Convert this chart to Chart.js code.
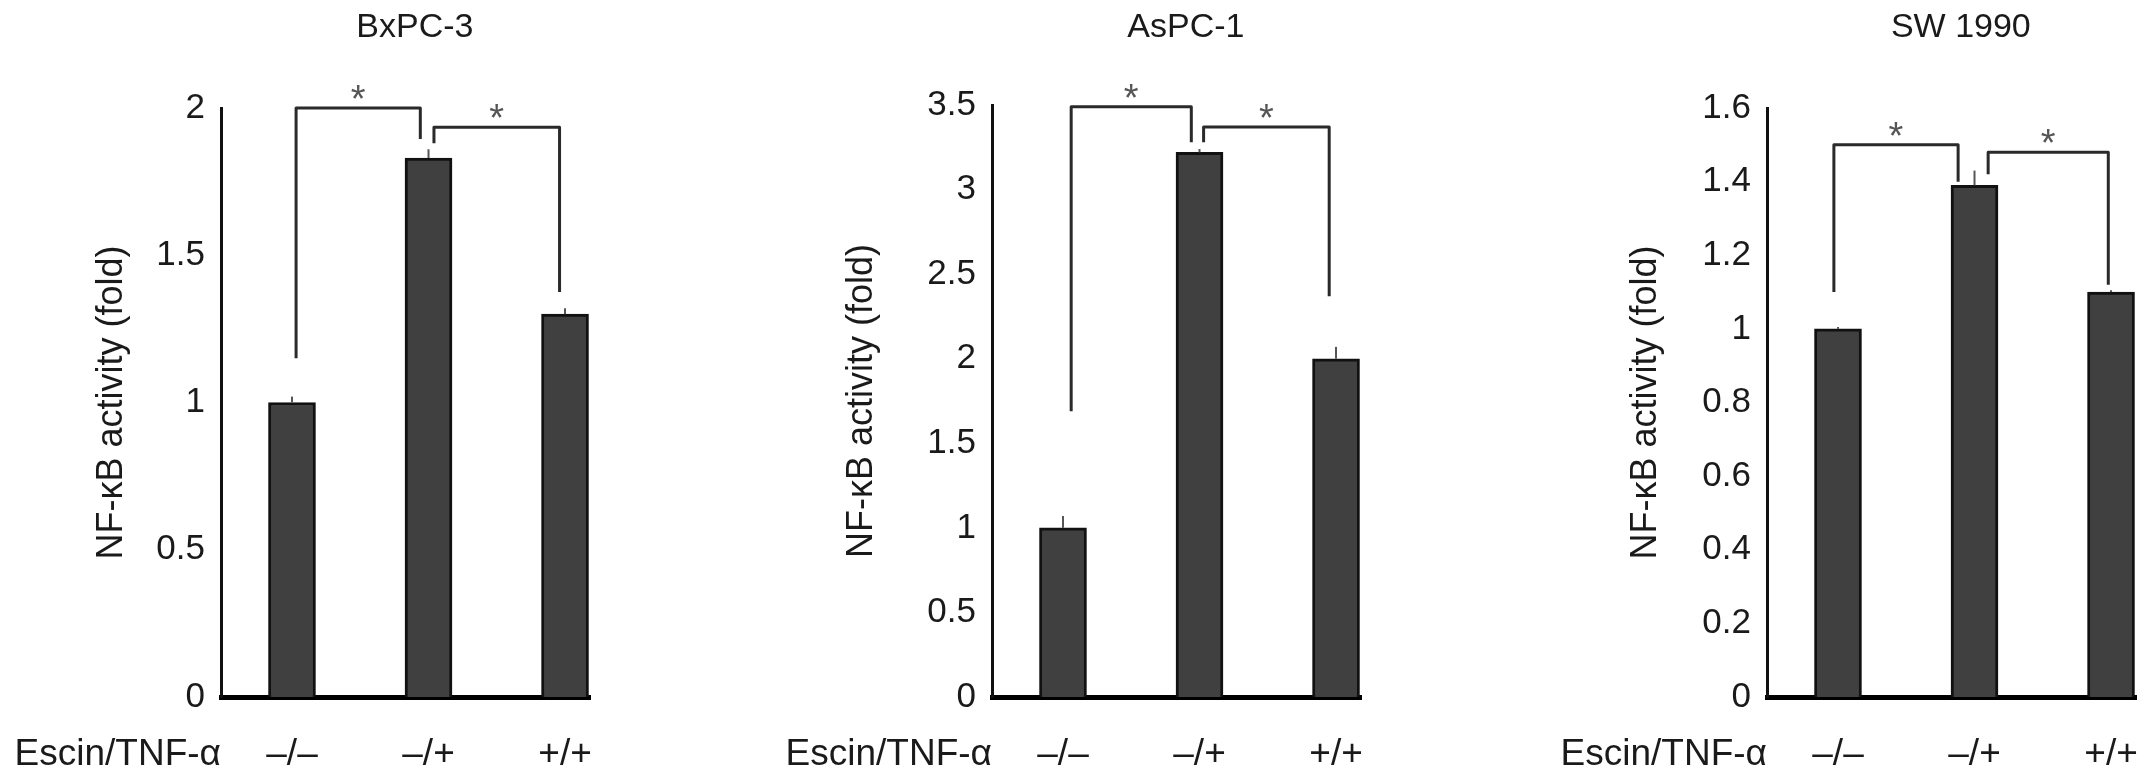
<!DOCTYPE html>
<html>
<head>
<meta charset="utf-8">
<script src="https://cdn.jsdelivr.net/npm/chart.js@4.4.0/dist/chart.umd.min.js"></script>
<style>
	html, body { margin: 0; padding: 0; background: #fff; overflow: hidden; }
	#wrap { position: relative; width: 2150px; height: 783px; }
	#wrap canvas { position: absolute; top: 0; }
</style>
</head>
<body>
<div id="wrap">
	<canvas id="c1"></canvas>
	<canvas id="c2"></canvas>
	<canvas id="c3"></canvas>
</div>
<script>
/***** Data *****/
const categories = ['–/–', '–/+', '+/+'];
const treatmentLabel = 'Escin/TNF-α';
const yTitle = 'NF-κB activity (fold)';

// BxPC-3
const bxpcValues = [1.0, 1.83, 1.30];
const bxpcErrors = [0.02, 0.03, 0.02];
const bxpcTicks = [0, 0.5, 1, 1.5, 2];
// [x start, x end, y top, y at start, y at end] in data units
const bxpcBrackets = [[1.03, 1.94, 2.0, 1.15, 1.895], [2.04, 2.96, 1.935, 1.88, 1.375]];

// AsPC-1
const aspcValues = [1.0, 3.22, 2.0];
const aspcErrors = [0.07, 0.02, 0.07];
const aspcTicks = [0, 0.5, 1, 1.5, 2, 2.5, 3, 3.5];
const aspcBrackets = [[1.06, 1.94, 3.49, 1.69, 3.28], [2.03, 2.95, 3.37, 3.28, 2.37]];

// SW 1990
const swValues = [1.0, 1.39, 1.10];
const swErrors = [0.005, 0.04, 0.005];
const swTicks = [0, 0.2, 0.4, 0.6, 0.8, 1, 1.2, 1.4, 1.6];
const swBrackets = [[0.97, 1.88, 1.50, 1.10, 1.40], [2.10, 2.98, 1.48, 1.42, 1.12]];

/***** Layout / style *****/
const FONT = "'Liberation Sans', Arial, Helvetica, sans-serif";
const INK = '#1a1a1a';
const X_MIN = 0.48, X_MAX = 3.183;   // categories 1..3 sit inside the axis like the figure
const PLOT_W = 369;                  // axis length in px
const PLOT_BOTTOM = 697;

const panels = [
	{ id: 'c1', title: 'BxPC-3', values: bxpcValues, errors: bxpcErrors, ticks: bxpcTicks, brackets: bxpcBrackets,
	  left: 0, axisW: 221, top: 108, titlePad: 90 },
	{ id: 'c2', title: 'AsPC-1', values: aspcValues, errors: aspcErrors, ticks: aspcTicks, brackets: aspcBrackets,
	  left: 760, axisW: 232, top: 105, titlePad: 80 },
	{ id: 'c3', title: 'SW 1990', values: swValues, errors: swErrors, ticks: swTicks, brackets: swBrackets,
	  left: 1530, axisW: 237, top: 108, titlePad: 94 }
];

Chart.defaults.font.family = FONT;
Chart.defaults.color = INK;

// Title, error bars, significance brackets and the row label
function extrasPlugin(p) {
	return {
		id: 'extras',
		afterDatasetsDraw(chart) {
			const { ctx, chartArea } = chart;
			const xs = chart.scales.x, ys = chart.scales.y;
			ctx.save();

			// error bars
			ctx.strokeStyle = '#555';
			ctx.lineWidth = 2;
			p.values.forEach((v, i) => {
				const x = xs.getPixelForValue(i + 1);
				ctx.beginPath();
				ctx.moveTo(x, ys.getPixelForValue(v));
				ctx.lineTo(x, ys.getPixelForValue(v + p.errors[i]));
				ctx.stroke();
			});

			// brackets + stars
			ctx.strokeStyle = '#2a2a2a';
			ctx.lineWidth = 3;
			ctx.lineJoin = 'round';
			p.brackets.forEach(b => {
				const x1 = xs.getPixelForValue(b[0]), x2 = xs.getPixelForValue(b[1]);
				const yt = ys.getPixelForValue(b[2]);
				ctx.beginPath();
				ctx.moveTo(x1, ys.getPixelForValue(b[3]));
				ctx.lineTo(x1, yt);
				ctx.lineTo(x2, yt);
				ctx.lineTo(x2, ys.getPixelForValue(b[4]));
				ctx.stroke();
				ctx.fillStyle = '#555';
				ctx.font = '38px ' + FONT;
				ctx.textAlign = 'center';
				ctx.textBaseline = 'alphabetic';
				ctx.fillText('*', (x1 + x2) / 2, yt + 4);
			});

			// panel title
			ctx.fillStyle = INK;
			ctx.font = '34px ' + FONT;
			ctx.textAlign = 'center';
			ctx.textBaseline = 'middle';
			ctx.fillText(p.title, xs.getPixelForValue(1.9), 28);

			// row label next to the category ticks
			ctx.font = '37px ' + FONT;
			ctx.textAlign = 'right';
			ctx.fillText(treatmentLabel, chartArea.left, 755);
			ctx.restore();
		}
	};
}

panels.forEach(p => {
	const canvas = document.getElementById(p.id);
	canvas.width = p.axisW + PLOT_W + 12;
	canvas.height = 783;
	canvas.style.left = p.left + 'px';

	new Chart(canvas, {
		type: 'bar',
		data: {
			datasets: [{
				data: p.values.map((v, i) => ({ x: i + 1, y: v })),
				backgroundColor: '#404040',
				borderColor: '#111',
				borderWidth: 3,
				barThickness: 47
			}]
		},
		options: {
			responsive: false,
			animation: false,
			layout: { padding: { top: p.top, right: 12, bottom: 0, left: 0 } },
			plugins: { legend: { display: false }, tooltip: { enabled: false } },
			scales: {
				x: {
					type: 'linear',
					offset: false,
					min: X_MIN,
					max: X_MAX,
					grid: { display: false, drawTicks: false },
					border: { display: true, color: '#000', width: 5 },
					afterBuildTicks: s => { s.ticks = categories.map((c, i) => ({ value: i + 1 })); },
					ticks: {
						padding: 36,
						font: { size: 37 },
						color: INK,
						callback: (v, i) => categories[i]
					},
					afterFit: s => { s.height = 783 - PLOT_BOTTOM; s.paddingLeft = 0; s.paddingRight = 0; }
				},
				y: {
					min: 0,
					max: p.ticks[p.ticks.length - 1],
					grid: { display: false, drawTicks: false },
					border: { display: true, color: '#111', width: 3 },
					afterBuildTicks: s => { s.ticks = p.ticks.map(v => ({ value: v })); },
					ticks: {
						padding: 16,
						font: { size: 35 },
						color: INK,
						callback: v => String(+v.toFixed(2))
					},
					title: {
						display: true,
						text: yTitle,
						font: { size: 36 },
						color: INK,
						padding: { top: p.titlePad, bottom: 0 }
					},
					afterFit: s => { s.width = p.axisW; s.paddingTop = 0; s.paddingBottom = 0; }
				}
			}
		},
		plugins: [extrasPlugin(p)]
	});
});
</script>
</body>
</html>
